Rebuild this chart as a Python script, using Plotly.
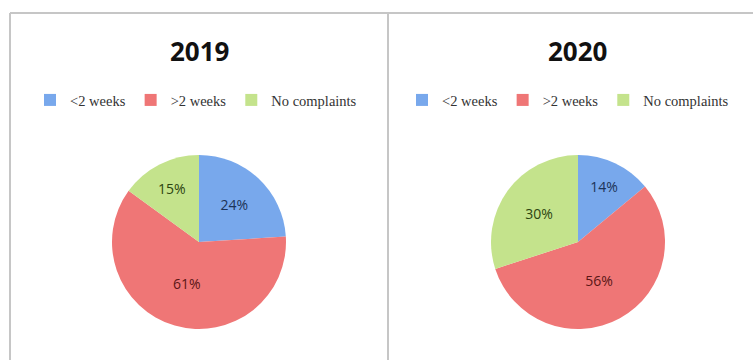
import plotly.graph_objects as go

categories = ["<2 weeks", ">2 weeks", "No complaints"]
values_2019 = [24, 61, 15]
values_2020 = [14, 56, 30]
years = ["2019", "2020"]
colors = ["#78a8ec", "#ef7676", "#c4e38c"]
label_colors = ["#1c3357", "#5a1616", "#2c4410"]

W, H = 753, 360

def px(x):
    return x / W

def py(y):
    return 1 - y / H

fig = go.Figure()

pie_domains = [
    dict(x=[px(112), px(286)], y=[py(330), py(154)]),
    dict(x=[px(491), px(665)], y=[py(330), py(154)]),
]
legend_names = ["legend", "legend2"]
# zero-width suffix keeps the second pie's legend entries separate
label_sets = [categories, [c + "\u200b" for c in categories]]

for vals, labs, dom, lg in zip([values_2019, values_2020], label_sets, pie_domains, legend_names):
    fig.add_trace(go.Pie(
        labels=labs,
        values=vals,
        domain=dom,
        sort=False,
        direction="clockwise",
        rotation=0,
        marker=dict(colors=colors, line=dict(color="white", width=0)),
        texttemplate="%{value}%",
        textposition="inside",
        insidetextorientation="horizontal",
        textfont=dict(family="Open Sans", size=14, color=label_colors),
        legend=lg,
        showlegend=True,
        hoverinfo="label+percent",
    ))

legend_style = dict(
    orientation="h",
    yanchor="middle",
    xanchor="left",
    font=dict(family="Liberation Serif", size=14.5, color="#333333"),
    bgcolor="rgba(0,0,0,0)",
    itemwidth=30,
    traceorder="normal",
)

fig.update_layout(
    width=W,
    height=H,
    margin=dict(l=0, r=0, t=0, b=0),
    paper_bgcolor="white",
    plot_bgcolor="white",
    legend=dict(x=px(30), y=py(100), **legend_style),
    legend2=dict(x=px(402), y=py(100), **legend_style),
)

# Titles
for yr, xc in zip(years, [199, 577]):
    fig.add_annotation(
        text=f"<b>{yr}</b>", x=px(xc), y=py(51), xref="paper", yref="paper",
        showarrow=False, font=dict(family="Open Sans", size=26, color="#111111"),
        xanchor="center", yanchor="middle",
    )

# Panel borders
border = dict(color="#c6c6c6", width=2)
fig.add_shape(type="line", xref="paper", yref="paper", x0=px(10), x1=1, y0=py(13), y1=py(13), line=border)
fig.add_shape(type="line", xref="paper", yref="paper", x0=px(10), x1=px(10), y0=py(13), y1=0, line=border)
fig.add_shape(type="line", xref="paper", yref="paper", x0=px(388), x1=px(388), y0=py(13), y1=0, line=border)

fig.write_html("out.html")
